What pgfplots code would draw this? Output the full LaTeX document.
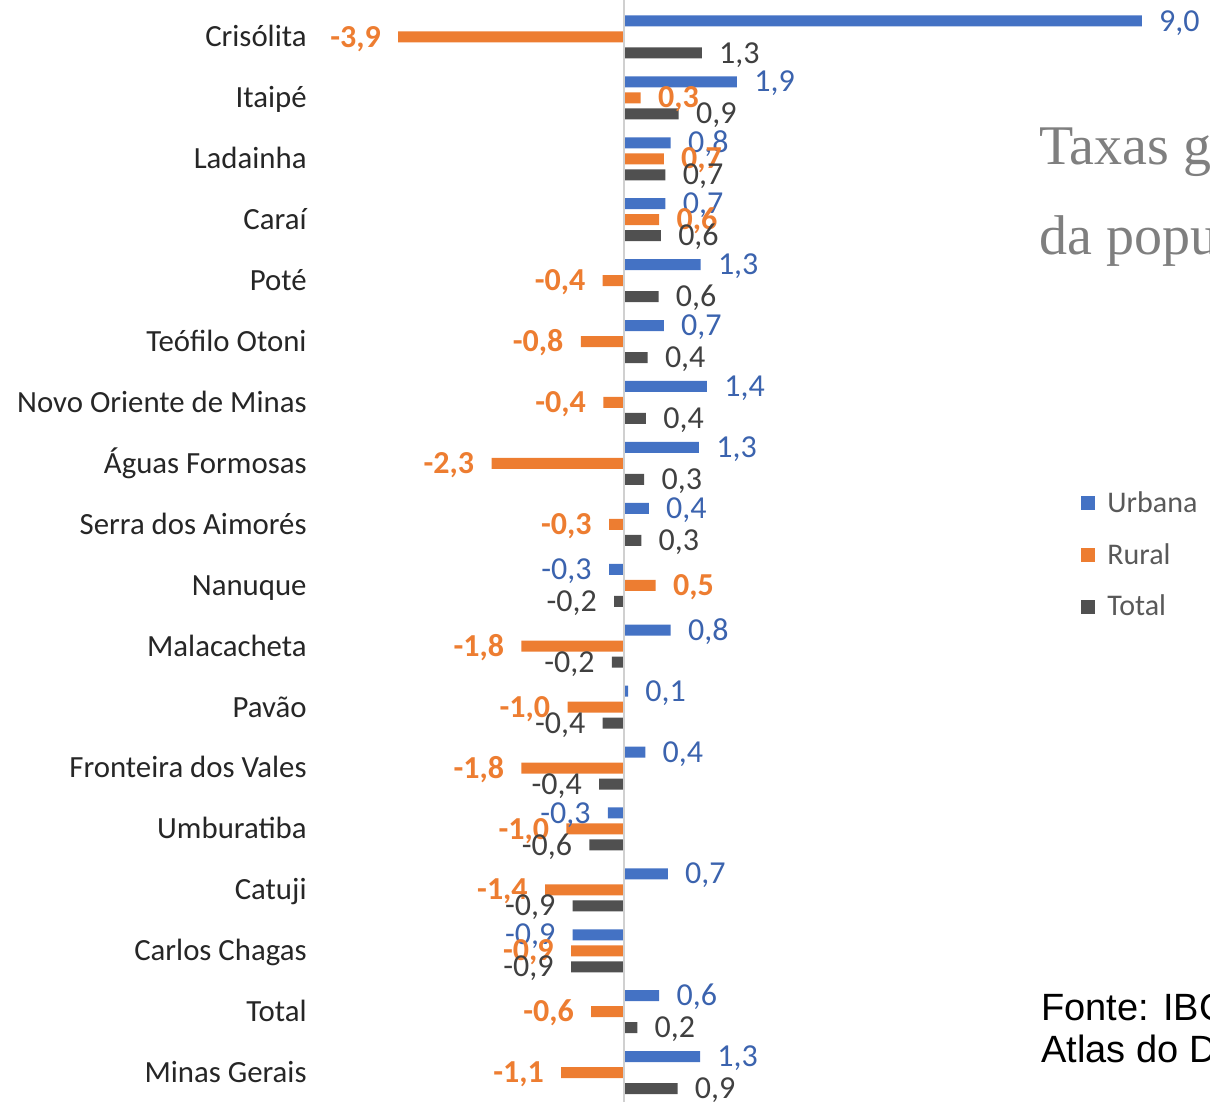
\documentclass[border=0pt]{standalone}
\usepackage{pgfplots}
\pgfplotsset{compat=1.18}
\usepackage{pgfplotstable}
\usepackage{fontspec}
\setmainfont{Carlito}
\newfontfamily\serifT{Liberation Serif}
\newfontfamily\arialT{Liberation Sans}
\definecolor{cblue}{HTML}{4472C4}
\definecolor{corange}{HTML}{ED7D31}
\definecolor{cgray}{HTML}{505050}
\definecolor{lblue}{HTML}{3B63AE}
\definecolor{lgray}{HTML}{404040}
\definecolor{catc}{HTML}{262626}
\definecolor{legc}{HTML}{595959}
\definecolor{titc}{HTML}{7F7F7F}
\definecolor{zeroc}{HTML}{D0D0D0}

\pgfplotstableread{
y x lab
17 8.99 9,0
16 1.96 1,9
15 0.81 0,8
14 0.72 0,7
13 1.33 1,3
12 0.69 0,7
11 1.44 1,4
10 1.30 1,3
9 0.43 0,4
8 -0.26 -0,3
7 0.81 0,8
6 0.07 0,1
5 0.37 0,4
4 -0.28 -0,3
3 0.76 0,7
2 -0.89 -0,9
1 0.61 0,6
0 1.32 1,3
}\urb

\pgfplotstableread{
y x lab
17 -3.92 -3,9
16 0.29 0,3
15 0.69 0,7
14 0.61 0,6
13 -0.37 -0,4
12 -0.75 -0,8
11 -0.36 -0,4
10 -2.30 -2,3
9 -0.26 -0,3
8 0.55 0,5
7 -1.78 -1,8
6 -0.98 -1,0
5 -1.78 -1,8
4 -1.00 -1,0
3 -1.37 -1,4
2 -0.92 -0,9
1 -0.57 -0,6
0 -1.09 -1,1
}\rur

\pgfplotstableread{
y x lab
17 1.35 1,3
16 0.95 0,9
15 0.72 0,7
14 0.64 0,6
13 0.60 0,6
12 0.41 0,4
11 0.38 0,4
10 0.35 0,3
9 0.30 0,3
8 -0.17 -0,2
7 -0.21 -0,2
6 -0.37 -0,4
5 -0.43 -0,4
4 -0.60 -0,6
3 -0.89 -0,9
2 -0.92 -0,9
1 0.23 0,2
0 0.93 0,9
}\tot

\pgfplotsset{
  lbl/.style={
    nodes near coords, point meta=explicit symbolic,
    visualization depends on={\thisrow{x} \as \xval},
    nodes near coords style={font=\fontsize{16}{19}\selectfont, inner xsep=8.5pt, inner ysep=0pt,
      text height=10.1pt, text depth=0pt,
      /utils/exec={\ifdim\xval pt<0pt \gdef\myanc{east}\else\gdef\myanc{west}\fi},
      anchor=\myanc},
  }
}

\begin{document}
\begin{tikzpicture}
\begin{axis}[
  scale only axis, width=605pt, height=551pt,
  xmin=-10.8333, xmax=10.1736, ymin=-0.482, ymax=17.607,
  axis line style={draw=none},
  xtick=\empty,
  ytick={0,...,17},
  yticklabels={Minas Gerais,Total,Carlos Chagas,Catuji,Umburatiba,Fronteira dos Vales,Pavão,Malacacheta,Nanuque,Serra dos Aimorés,Águas Formosas,Novo Oriente de Minas,Teófilo Otoni,Poté,Caraí,Ladainha,Itaipé,Crisólita},
  ytick style={draw=none}, major tick length=0pt,
  yticklabel style={anchor=east, inner xsep=0pt, xshift=153.5pt,
    font=\fontsize{15.4}{18}\selectfont, text=catc, text height=9.9pt, text depth=0pt},
  xbar, bar width=5.5pt, clip=false,
  legend style={draw=none, fill=none, at={(0.8934,0.5581)}, anchor=north west,
    inner sep=0pt, row sep=10pt, font=\fontsize{15}{18}\selectfont, text=legc,
    nodes={font=\fontsize{15}{18}\selectfont, text=legc},
    /tikz/every odd column/.append style={column sep=4pt}},
  legend cell align=left,
  legend image code/.code={\fill (0pt,-3.5pt) rectangle (7pt,3.5pt);},
]
\addplot[lbl, draw=none, fill=cblue, bar shift=8pt,
  every node near coord/.append style={text=lblue}]
  table[x=x, y=y, meta=lab] {\urb};
\addlegendentry{Urbana}
\addplot[lbl, draw=none, fill=corange, bar shift=0pt,
  every node near coord/.append style={text=corange, font=\fontsize{16}{19}\selectfont\bfseries}]
  table[x=x, y=y, meta=lab] {\rur};
\addlegendentry{Rural}
\addplot[lbl, draw=none, fill=cgray, bar shift=-8pt,
  every node near coord/.append style={text=lgray}]
  table[x=x, y=y, meta=lab] {\tot};
\addlegendentry{Total}
\addplot[forget plot, sharp plot, draw=zeroc, line width=1pt, mark=none] coordinates {(0,-0.482) (0,17.607)};

\node[anchor=base west, inner sep=0pt, font=\serifT\fontsize{28}{30}\selectfont, text=titc]
  at (rel axis cs:0.8587,0.8503) {Taxas geométricas de crescimento anual};
\node[anchor=base west, inner sep=0pt, font=\serifT\fontsize{28}{30}\selectfont, text=titc]
  at (rel axis cs:0.8587,0.7686) {da população residente};
\node[anchor=base west, inner sep=0pt, font=\arialT\fontsize{19}{21}\selectfont, text=black]
  at (rel axis cs:0.8603,0.0744) {Fonte: IBGE, Censos Demográficos};
\node[anchor=base west, inner sep=0pt, font=\arialT\fontsize{19}{21}\selectfont, text=black]
  at (rel axis cs:0.8603,0.0354) {Atlas do Desenvolvimento Humano};
\end{axis}
\pgfresetboundingbox
\useasboundingbox (current axis.south west) rectangle (current axis.north east);
\end{tikzpicture}
\end{document}
